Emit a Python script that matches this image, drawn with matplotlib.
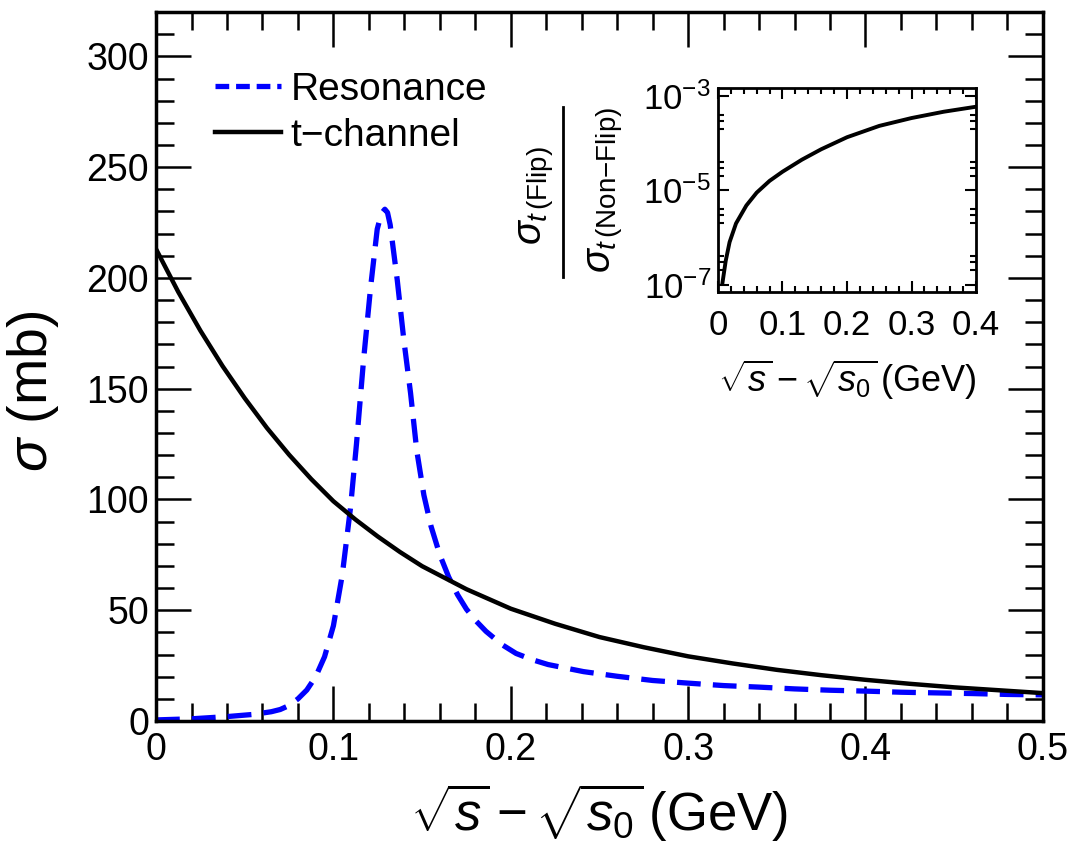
import numpy as np
import matplotlib
matplotlib.use("Agg")
import matplotlib.pyplot as plt
from matplotlib.lines import Line2D
from matplotlib.ticker import MultipleLocator, FixedLocator, LogLocator, LogFormatterMathtext, FuncFormatter

plt.rcParams['font.family'] = ['Liberation Sans', 'DejaVu Sans']
plt.rcParams['mathtext.fontset'] = 'custom'
plt.rcParams['mathtext.rm'] = 'Liberation Sans'
plt.rcParams['mathtext.it'] = 'Liberation Sans:italic'
plt.rcParams['mathtext.bf'] = 'Liberation Sans:bold'

# t-channel cross section (mb) vs sqrt(s) - sqrt(s0) (GeV)
tch_x = [0.0, 0.0125, 0.025, 0.0375, 0.05, 0.0625, 0.075, 0.0875, 0.1,
         0.1125, 0.125, 0.1375, 0.15, 0.175, 0.2, 0.225, 0.25, 0.275, 0.3,
         0.325, 0.35, 0.375, 0.4, 0.425, 0.45, 0.475, 0.5]
tch_sigma = [213, 193.7, 176.2, 160.2, 145.7, 132.3, 120.2, 109.2, 99.2,
             90.9, 83.3, 76.3, 69.9, 59.5, 50.7, 43.9, 37.9, 33.3, 29.2,
             26.0, 23.1, 20.7, 18.6, 16.8, 15.2, 13.9, 12.6]

# resonance contribution
res_x = [0.0, 0.02, 0.04, 0.055, 0.065, 0.07, 0.075, 0.08, 0.085, 0.09,
         0.095, 0.1, 0.105, 0.1096, 0.113, 0.117, 0.121, 0.1247, 0.127,
         0.129, 0.1305, 0.132, 0.136, 0.1397, 0.1435, 0.147, 0.151, 0.155,
         0.16, 0.165, 0.17, 0.175, 0.18, 0.186, 0.195, 0.203, 0.212, 0.221,
         0.241, 0.26, 0.28, 0.3, 0.32, 0.34, 0.36, 0.38, 0.4, 0.42, 0.44,
         0.46, 0.48, 0.5]
res_sigma = [0.5, 1.0, 2.0, 3.0, 4.2, 5.2, 7.0, 10.0, 14.0, 20.0,
             29.0, 43.0, 66.0, 96.0, 125.0, 163.0, 196.0, 222.0, 229.0,
             231.0, 229.5, 224.0, 199.0, 172.0, 148.0, 122.0, 102.0, 88.0,
             75.0, 65.0, 57.0, 50.5, 45.5, 40.5, 34.5, 30.5, 27.7, 25.5,
             22.3, 20.2, 18.3, 17.1, 16.0, 15.3, 14.5, 13.9, 13.5, 13.0, 12.7,
             12.4, 12.0, 11.8]

# spin flip / non-flip ratio
ratio_x = [0.007, 0.012, 0.018, 0.028, 0.044, 0.06, 0.08, 0.1, 0.13,
           0.16, 0.2, 0.25, 0.3, 0.35, 0.4]
ratio_y = [1.1e-7, 3.2e-7, 8e-7, 2.0e-6, 4.8e-6, 9e-6, 1.6e-5, 2.5e-5, 4.5e-5,
           7.5e-5, 1.35e-4, 2.35e-4, 3.45e-4, 4.7e-4, 6.0e-4]

xlab = r'$\sqrt{s}-\sqrt{s_0}\,$(GeV)'
fmt = FuncFormatter(lambda v, p: '%g' % v)

fig = plt.figure(figsize=(10.74, 8.6), dpi=100)
ax = fig.add_axes([0.1453, 0.1616, 0.8257, 0.8244])

res_line, = ax.plot(res_x, res_sigma, color='blue', lw=3.8, dashes=(4.5, 2.3))
tch_line, = ax.plot(tch_x, tch_sigma, color='black', lw=3.2)

ax.set_xlim(0, 0.5)
ax.set_ylim(0, 320)
ax.xaxis.set_major_locator(MultipleLocator(0.1))
ax.xaxis.set_minor_locator(MultipleLocator(0.02))
ax.yaxis.set_major_locator(MultipleLocator(50))
ax.yaxis.set_minor_locator(MultipleLocator(10))
ax.xaxis.set_major_formatter(fmt)
ax.tick_params(which='both', direction='in', top=True, right=True, width=1.8, labelsize=27)
ax.tick_params(which='major', length=25)
ax.tick_params(which='minor', length=13)
ax.tick_params(axis='x', pad=8)
ax.tick_params(axis='y', pad=5)
for sp in ax.spines.values():
    sp.set_linewidth(2.5)

ax.set_xlabel(xlab, fontsize=38, labelpad=10)
ax.set_ylabel(r'$\sigma$ (mb)', fontsize=40)
ax.yaxis.set_label_coords(-0.107, 0.465)

# legend proxies with shorter dashes
h_res = Line2D([], [], color='blue', lw=3.8, dashes=(2.6, 1.3))
h_tch = Line2D([], [], color='black', lw=3.2)
ax.legend([h_res, h_tch], ['Resonance', 't\u2212channel'], loc='upper left',
          bbox_to_anchor=(0.0665, 0.9155), frameon=False, fontsize=28,
          handlelength=1.7, handletextpad=0.25, labelspacing=0.25,
          borderpad=0, borderaxespad=0)

# inset: ratio on log scale
axi = fig.add_axes([0.6685, 0.6605, 0.2403, 0.2372])
axi.plot(ratio_x, ratio_y, color='black', lw=2.8)
axi.set_yscale('log')
axi.set_xlim(0, 0.4)
axi.set_ylim(7e-8, 1.5e-3)
axi.xaxis.set_major_locator(MultipleLocator(0.1))
axi.xaxis.set_minor_locator(MultipleLocator(0.02))
axi.xaxis.set_major_formatter(fmt)
axi.yaxis.set_major_locator(FixedLocator([1e-7, 1e-5, 1e-3]))
axi.yaxis.set_major_formatter(LogFormatterMathtext())
axi.yaxis.set_minor_locator(LogLocator(base=10, subs=(2, 3, 4), numticks=20))
axi.yaxis.set_minor_formatter(FuncFormatter(lambda v, p: ''))
axi.tick_params(which='both', direction='in', top=True, right=True, width=1.5, labelsize=25)
axi.tick_params(which='major', length=8)
axi.tick_params(which='minor', length=4.5)
axi.tick_params(axis='x', pad=12)
axi.tick_params(axis='y', pad=5)
for sp in axi.spines.values():
    sp.set_linewidth(2.0)
axi.set_xlabel(xlab, fontsize=26, labelpad=12)

# fraction label for the inset, drawn by hand
fig.text(0.4995, 0.773, r'$\sigma_{t\,(\mathrm{Flip})}$', rotation=90,
         ha='center', va='center', fontsize=28.5)
fig.add_artist(Line2D([0.5242, 0.5242], [0.678, 0.876], color='black', lw=2.0,
                      transform=fig.transFigure))
fig.text(0.5640, 0.779, r'$\sigma_{t\,(\mathrm{Non{-}Flip})}$', rotation=90,
         ha='center', va='center', fontsize=28.5)

fig.savefig('out.png', dpi=100)
